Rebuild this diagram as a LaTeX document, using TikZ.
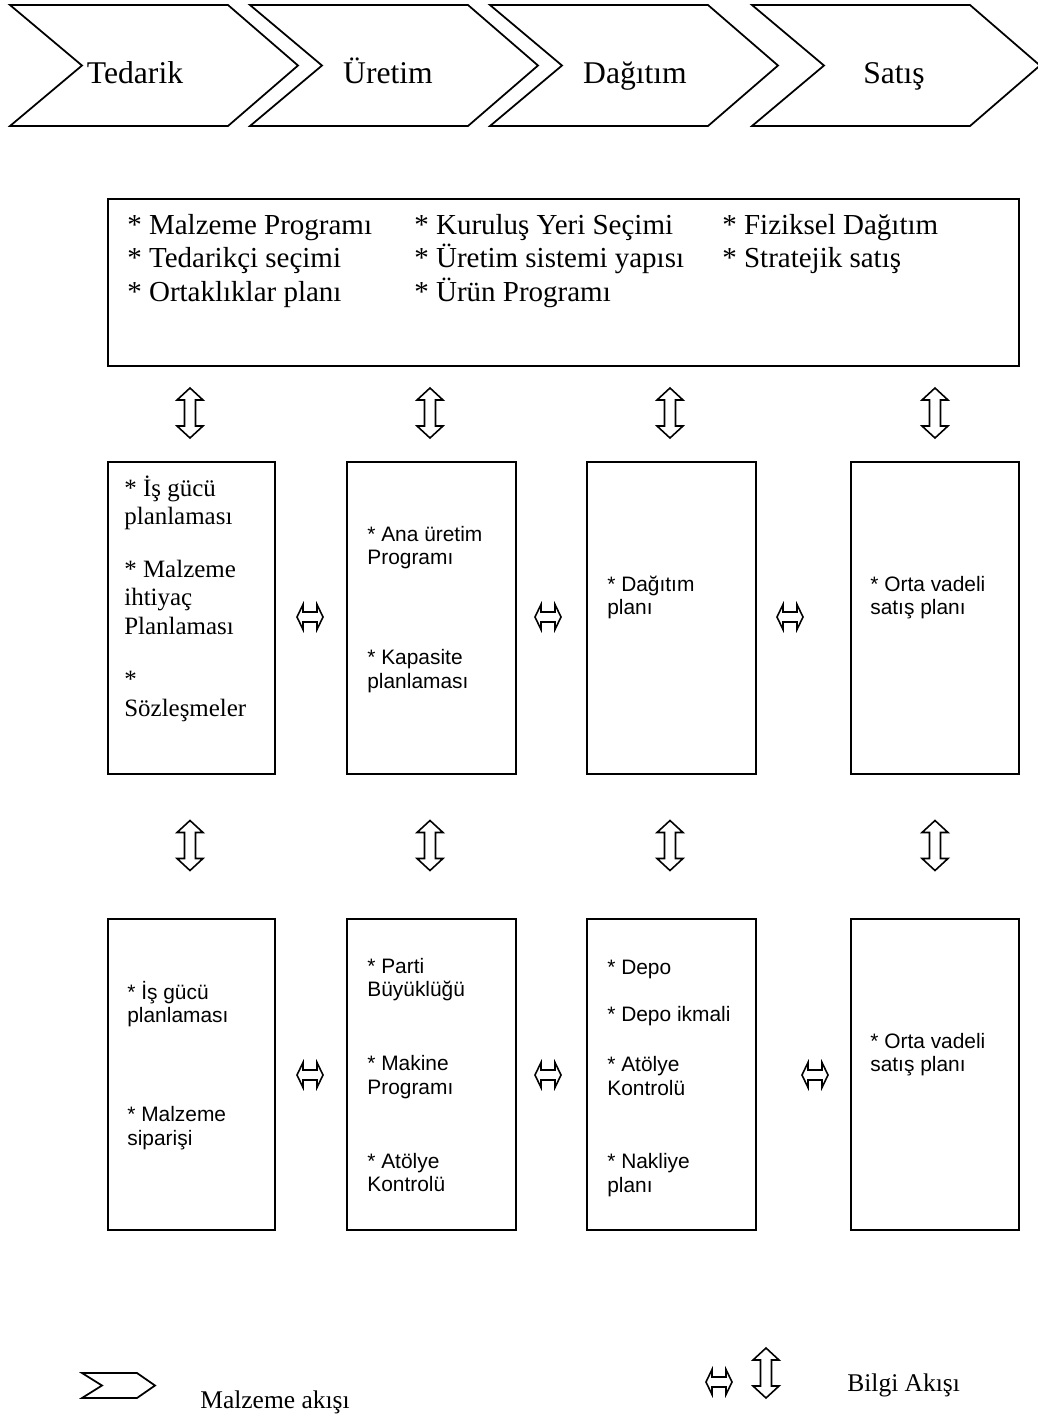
\documentclass[tikz,border=0pt]{standalone}
\usepackage{fontspec}
\setmainfont{Liberation Serif}
\setsansfont{Liberation Sans}
\newcommand\itemlines[1]{\begin{tabular}[t]{@{}l@{}}#1\end{tabular}}
\tikzset{
  panel/.style={draw,line width=1.1pt,inner sep=0pt,anchor=north west},
  chev/.style={draw,line width=1pt,line join=miter},
  stage/.style={font=\fontsize{18}{21}\selectfont,anchor=base,inner sep=0pt},
  plantext/.style={font=\fontsize{16.5}{19.3}\selectfont,anchor=base west,inner sep=0pt},
  serifitem/.style={font=\fontsize{14.2}{16.2}\selectfont,anchor=base west,inner sep=0pt},
  sansitem/.style={font=\sffamily\fontsize{11.9}{13.6}\selectfont,anchor=base west,inner sep=0pt},
  legendtext/.style={font=\fontsize{14.5}{17}\selectfont,anchor=base west,inner sep=0pt},
  vflow/.pic={\draw[line width=0.9pt] (0,-25) -- (13,-13) -- (5.5,-13) -- (5.5,13) -- (13,13)
    -- (0,25) -- (-13,13) -- (-5.5,13) -- (-5.5,-13) -- (-13,-13) -- cycle;},
  hflow/.pic={\draw[line width=0.9pt] (-13,0) -- (-7,-12.5) -- (-7,-5) -- (7,-5) -- (7,-12.5)
    -- (13,0) -- (7,12.5) -- (7,5) -- (-7,5) -- (-7,12.5) -- cycle;}
}
\begin{document}
\begin{tikzpicture}[x=0.02cm,y=-0.02cm]
\useasboundingbox (0,0) rectangle (1038,1418);
\foreach \x/\c/\t [count=\i] in {10/135/Tedarik,250/388/Üretim,490/635/Dağıtım,752/894/Satış}{
  \draw[chev] (\x,5) -- ++(218,0) -- ++(70,60.5) -- ++(-70,60.5) -- ++(-218,0) -- ++(72,-60.5) -- cycle;
  \node[stage] (stage\i) at (\c,83) {\t};
}

\node[panel,minimum width=18.22cm,minimum height=3.34cm] (plan) at (107,198) {};
\node[plantext] (plan1) at (127,234) {\itemlines{{*} Malzeme Programı\\{*} Tedarikçi seçimi\\{*} Ortaklıklar planı}};
\node[plantext] (plan2) at (414,234) {\itemlines{{*} Kuruluş Yeri Seçimi\\{*} Üretim sistemi yapısı\\{*} Ürün Programı}};
\node[plantext] (plan3) at (722,234) {\itemlines{{*} Fiziksel Dağıtım\\{*} Stratejik satış}};

\foreach \x/\w [count=\i] in {107/167,346/169,586/169,850/168}{
  \node[panel,minimum width=\w*0.02cm,minimum height=6.24cm] (mid\i) at (\x,461) {};
  \node[panel,minimum width=\w*0.02cm,minimum height=6.22cm] (bot\i) at (\x,918) {};
}
\node[serifitem] (mid1t) at (124,496) {\itemlines{{*} İş gücü\\planlaması\\[13.9pt]{*} Malzeme\\ihtiyaç\\Planlaması\\[14.3pt]{*}\\Sözleşmeler}};
\node[sansitem] (mid2t) at (367,541) {\itemlines{{*} Ana üretim\\Programı\\[43pt]{*} Kapasite\\planlaması}};
\node[sansitem] (mid3t) at (607,591) {\itemlines{{*} Dağıtım\\planı}};
\node[sansitem] (mid4t) at (870,591) {\itemlines{{*} Orta vadeli\\satış planı}};
\node[sansitem] (bot1t) at (127,999) {\itemlines{{*} İş gücü\\planlaması\\[42.5pt]{*} Malzeme\\siparişi}};
\node[sansitem] (bot2t) at (367,973) {\itemlines{{*} Parti\\Büyüklüğü\\[28.3pt]{*} Makine\\Programı\\[28.3pt]{*} Atölye\\Kontrolü}};
\node[sansitem] (bot3t) at (607,974) {\itemlines{{*} Depo\\[13.6pt]{*} Depo ikmali\\[14.7pt]{*} Atölye\\Kontrolü\\[28pt]{*} Nakliye\\planı}};
\node[sansitem] (bot4t) at (870,1048) {\itemlines{{*} Orta vadeli\\satış planı}};

\foreach \x [count=\i] in {190,430,670,935}{
  \pic (up\i) at (\x,413) {vflow};
  \pic (down\i) at (\x,845.5) {vflow};
}
\foreach \x [count=\i] in {310,548,790} \pic (midlink\i) at (\x,617) {hflow};
\foreach \x [count=\i] in {310,548,815} \pic (botlink\i) at (\x,1075) {hflow};

\draw[chev] (82,1373) -- (137,1373) -- (155,1385.5) -- (137,1398) -- (82,1398) -- (102,1385.5) -- cycle;
\node[legendtext] (matflow) at (200,1408) {Malzeme akışı};
\pic (infoh) at (719,1382) {hflow};
\pic (infov) at (766,1373) {vflow};
\node[legendtext] (infoflow) at (847,1391) {Bilgi Akışı};
\end{tikzpicture}
\end{document}
